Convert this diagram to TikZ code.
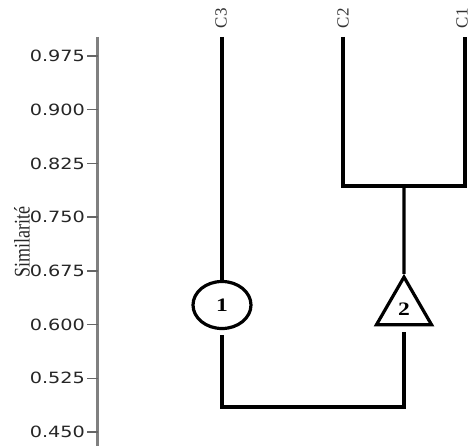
\documentclass[tikz,border=0pt]{standalone}
\usepackage{fontspec}
\setmainfont{Liberation Serif}
\newfontfamily\ticksfont{DejaVu Sans}
\usetikzlibrary{shapes.geometric}

\tikzset{
  branch/.style={line width=3.2pt, draw=black},
  axisline/.style={line width=3pt, draw=black!50},
  tickmark/.style={line width=1.6pt, draw=black!60},
  ticklabel/.style={anchor=east, inner sep=0pt, text=black!85,
    font=\ticksfont\fontsize{15.5}{16}\selectfont},
  leaflabel/.style={rotate=90, anchor=east, inner sep=0pt, text=black!80,
    font=\fontsize{17}{18}\selectfont},
  groupmark/.style={line width=3.2pt, draw=black, fill=white, inner sep=0pt,
    font=\bfseries\fontsize{19}{20}\selectfont}
}

\newcommand{\wide}[1]{\scalebox{1.24}[1]{#1}}
\newcommand{\tall}[1]{\scalebox{1}[1.24]{#1}}

\begin{document}
\begin{tikzpicture}[x=1pt, y=-1pt]
  \useasboundingbox (0,0) rectangle (470,446);

  % similarity axis
  \coordinate (axtop) at (97.5,37);
  \coordinate (axbot) at (97.5,446);
  \draw[axisline] (axtop) -- (axbot);
  \foreach \v/\y [count=\i] in {0.975/56,0.900/109.7,0.825/163.4,0.750/217.1,
                     0.675/270.9,0.600/324.6,0.525/378.3,0.450/432} {
    \coordinate (tk\i) at (97.5,\y);
    \draw[tickmark] (tk\i) -- ++(-11,0) coordinate (tl\i);
    \node[ticklabel] (lab\i) at ([xshift=-1.5pt]tl\i) {\wide{\v}};
  }
  \node[rotate=90, inner sep=0pt, font=\fontsize{18}{19}\selectfont,
        text=black!85] (axtitle) at (22,242) {\tall{Similarité}};

  % leaves
  \node[leaflabel] (c3) at (221,8) {C3};
  \node[leaflabel] (c2) at (343,8) {C2};
  \node[leaflabel] (c1) at (462,8) {C1};
  \coordinate (c3top) at (222,37);
  \coordinate (c2top) at (343,37);
  \coordinate (c1top) at (465,37);

  % group markers
  \node[groupmark, ellipse, minimum width=58pt, minimum height=47pt]
    (g1) at (222,305) {\wide{1}};
  \node[groupmark, regular polygon, regular polygon sides=3,
        minimum size=63.5pt] (g2) at (404,308.8) {\wide{2}};

  % merge points
  \coordinate (m1) at (404,186);
  \coordinate (m2) at (312,407);

  % dendrogram branches
  \draw[branch] (c2top) |- (m1) -| (c1top);
  \draw[branch] (m1) -- (g2.north);
  \draw[branch] (c3top) -- (g1.north);
  \draw[branch, shorten <=5pt, shorten >=6pt] (g1.south) |- (m2) -| (g2.south);
\end{tikzpicture}
\end{document}
